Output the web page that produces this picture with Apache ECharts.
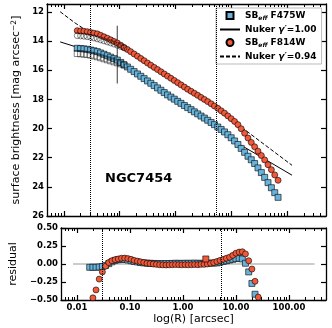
<!DOCTYPE html>
<html><head><meta charset="utf-8">
<script src="https://cdn.jsdelivr.net/npm/echarts@6/dist/echarts.min.js"></script>
<style>html,body{margin:0;padding:0;background:#fff}#c{width:332px;height:328px}</style>
</head><body><div id="c"></div>
<script>
// ---- data ----
const R = [0.0174,0.0200,0.0229,0.0263,0.0302,0.0347,0.0398,0.0457,0.0525,0.0603,0.0692,0.0794,0.0912,0.105,0.120,0.138,0.158,0.182,0.209,0.240,0.275,0.316,0.363,0.417,0.479,0.550,0.631,0.724,0.832,0.955,1.10,1.26,1.45,1.66,1.91,2.19,2.51,2.88,3.31,3.80,4.37,5.01,5.75,6.61,7.59,8.71,10.0,11.5,13.2,15.1,17.4,20.0,22.9,26.3,30.2,34.7,39.8,45.7,52.5,60.3,69.2];
const magF814W = [13.28,13.30,13.32,13.35,13.40,13.45,13.50,13.60,13.70,13.80,13.91,14.02,14.13,14.28,14.43,14.57,14.72,14.88,15.03,15.19,15.34,15.50,15.65,15.80,15.95,16.10,16.25,16.40,16.55,16.70,16.85,17.00,17.15,17.30,17.44,17.58,17.72,17.86,18.00,18.15,18.30,18.45,18.61,18.78,18.94,19.13,19.32,19.51,19.73,20.01,20.32,20.65,20.95,21.25,21.55,21.85,22.15,22.48,22.82,23.18,23.55];
const magF475W = [14.49,14.51,14.53,14.56,14.61,14.66,14.72,14.81,14.90,15.00,15.10,15.20,15.30,15.46,15.62,15.77,15.93,16.09,16.25,16.41,16.57,16.73,16.89,17.05,17.21,17.37,17.53,17.69,17.84,17.98,18.13,18.27,18.42,18.56,18.70,18.85,18.99,19.14,19.28,19.43,19.58,19.73,19.89,20.06,20.23,20.42,20.63,20.85,21.09,21.36,21.63,21.90,22.14,22.40,22.70,23.02,23.35,23.71,24.06,24.40,24.72];
const resF814W = [null,-0.47,-0.36,-0.21,-0.11,-0.03,0.02,0.045,0.06,0.07,0.08,0.082,0.075,0.065,0.05,0.04,0.03,0.02,0.01,0.005,0.0,-0.005,-0.01,-0.012,-0.014,-0.012,-0.01,-0.008,-0.01,-0.012,-0.01,-0.012,-0.01,-0.008,-0.01,-0.005,-0.005,0.0,0.01,0.02,0.035,0.05,0.065,0.08,0.095,0.12,0.15,0.165,0.17,0.14,0.045,-0.07,-0.24,-0.46,null,null,null,null,null,null,null];
const resF475W = [-0.046,-0.045,-0.045,-0.042,-0.035,-0.02,0.005,0.03,0.05,0.06,0.065,0.063,0.055,0.045,0.035,0.028,0.02,0.015,0.012,0.01,0.008,0.006,0.005,0.004,0.005,0.006,0.008,0.01,0.009,0.008,0.01,0.009,0.01,0.011,0.01,0.009,0.01,0.012,0.012,0.013,0.015,0.025,0.035,0.045,0.055,0.065,0.075,0.08,0.07,0.01,-0.11,-0.27,-0.42,null,null,null,null,null,null,null,null];
const openR = [0.0174,0.0200,0.0229,0.0263,0.0302,0.0347,0.0398,0.0457,0.0525,0.0603,0.0692,0.0794,0.0912,0.105,0.120];
const openF814W = [13.62,13.64,13.66,13.69,13.73,13.78,13.84,13.91,13.98,14.05,14.12,14.20,14.28,14.37,14.46];
const openF475W = [14.85,14.87,14.89,14.92,14.96,15.01,15.07,15.14,15.21,15.28,15.35,15.42,15.49,15.56,15.64];
const nukerBR = [0.0086,0.0174,0.0316,0.0912,0.316,1.0,3.16,5.37,12.6,123];
const nukerBMag = [14.05,14.42,14.62,15.27,16.72,18.05,19.28,19.77,20.97,23.2];
const nukerRR = [0.0086,0.0159,0.0263,0.0912,0.316,1.0,3.16,5.37,12.6,123];
const nukerRMag = [11.98,12.75,13.3,14.13,15.5,16.75,17.97,18.53,19.67,22.52];
const vlineR = [0.026, 5.3];
const breakR = [0.091, 0.091];
const breakMag = [12.95, 16.9];
const zeroR = [0.0086, 300];
const zeroRes = [0, 0];
const outlierR = [2.7];
const outlierRes = [0.07];
const xMajor = [0.01, 0.1, 1, 10, 100];
const xMinor = [0.006,0.007,0.008,0.009,0.02,0.03,0.04,0.05,0.06,0.07,0.08,0.09,0.2,0.3,0.4,0.5,0.6,0.7,0.8,0.9,2,3,4,5,6,7,8,9,20,30,40,50,60,70,80,90,200,300,400];
const yTopTicks = [12, 14, 16, 18, 20, 22, 24, 26];
const yResTicks = [-0.5, -0.25, 0, 0.25, 0.5];

// ---- chart ----
const FF = 'DejaVu Sans';
const zip = (a, b) => a.map((v, i) => [v, b[i]]).filter(p => p[1] !== null);
const blue = '#67b3db', red = '#f2583a';

function xAx(grid, pos, minor, labels, extra) {
  return Object.assign({
    type: 'log', logBase: 10, gridIndex: grid, position: pos, min: 0.005, max: 500,
    axisLine: { show: !minor, onZero: false, lineStyle: { color: '#000', width: 1.3 } },
    axisTick: { show: true, inside: true, length: minor ? 3 : 5, customValues: minor ? xMinor : xMajor,
      lineStyle: { color: '#000', width: minor ? 1 : 1.2 } },
    axisLabel: { show: labels, customValues: xMajor, formatter: v => Number(v).toFixed(2),
      fontFamily: FF, fontWeight: 'bold', fontSize: 8.5, color: '#000', margin: 3 },
    splitLine: { show: false }, minorTick: { show: false }, minorSplitLine: { show: false }
  }, extra || {});
}
function yAx(grid, pos, labels, cfg) {
  return Object.assign({
    type: 'value', gridIndex: grid, position: pos,
    axisLine: { show: true, onZero: false, lineStyle: { color: '#000', width: 1.3 } },
    axisTick: { show: true, inside: true, length: 5, customValues: cfg.ticks, lineStyle: { color: '#000', width: 1.2 } },
    axisLabel: { show: labels, customValues: cfg.ticks, formatter: cfg.fmt,
      fontFamily: FF, fontWeight: 'bold', fontSize: 8.5, color: '#000', margin: 3 },
    splitLine: { show: false }
  }, cfg.extra);
}

const topY = { ticks: yTopTicks, fmt: v => String(Math.round(v)), extra: { min: 11.45, max: 26, inverse: true } };
const resY = { ticks: yResTicks, fmt: v => v.toFixed(2).replace('-', '\u2212'), extra: { min: -0.5, max: 0.5 } };

const vMark = {
  silent: true, symbol: 'none', label: { show: false },
  lineStyle: { type: 'dotted', color: '#000', width: 1 },
  data: vlineR.map(v => ({ xAxis: v }))
};

const option = {
  animation: false,
  title: { text: 'NGC7454', left: 105, top: 172, padding: 0,
    textStyle: { fontFamily: FF, fontWeight: 'bold', fontSize: 13, color: '#000' } },
  legend: {
    left: 216, top: 8, orient: 'vertical', itemWidth: 20, itemHeight: 7, itemGap: 4,
    padding: [3, 5, 3, 3], backgroundColor: '#fff', borderColor: '#aaa', borderWidth: 0.8, borderRadius: 0,
    data: [
      { name: 'F475W', icon: 'path://M0,0L10,0L10,10L0,10Z' },
      { name: 'NukerB', itemStyle: { opacity: 0 } },
      { name: 'F814W', icon: 'circle' },
      { name: 'NukerR', itemStyle: { opacity: 0 } }
    ],
    formatter: n => ({
      F475W: '{b|SB}{s|eff}{b| F475W}',
      NukerB: '{b|Nuker }{g|\u03b3\u2032}{b|=1.00}',
      F814W: '{b|SB}{s|eff}{b| F814W}',
      NukerR: '{b|Nuker }{g|\u03b3\u2032}{b|=0.94}'
    })[n],
    textStyle: {
      fontFamily: FF, fontWeight: 'bold', fontSize: 9, color: '#000',
      rich: {
        b: { fontFamily: FF, fontWeight: 'bold', fontSize: 9, lineHeight: 11, color: '#000' },
        s: { fontFamily: FF, fontWeight: 'bold', fontStyle: 'italic', fontSize: 6, lineHeight: 6, verticalAlign: 'bottom', color: '#000' },
        g: { fontFamily: FF, fontWeight: 'bold', fontStyle: 'italic', fontSize: 9, lineHeight: 11, color: '#000' }
      }
    }
  },
  grid: [
    { left: 47, top: 4, width: 279, height: 212 },
    { left: 47, top: 228, width: 279, height: 72 }
  ],
  xAxis: [
    xAx(0, 'bottom', false, false), xAx(0, 'bottom', true, false),
    xAx(0, 'top', false, false), xAx(0, 'top', true, false),
    xAx(1, 'bottom', false, true, { name: 'log(R) [arcsec]', nameLocation: 'middle', nameGap: 14,
      nameTextStyle: { fontFamily: FF, fontSize: 11, color: '#000' } }),
    xAx(1, 'bottom', true, false),
    xAx(1, 'top', false, false), xAx(1, 'top', true, false)
  ],
  yAxis: [
    yAx(0, 'left', true, Object.assign({}, topY, { extra: Object.assign({}, topY.extra, {
      name: 'surface brightness [mag arcsec{sup|\u22122}]', nameLocation: 'middle', nameGap: 16,
      nameTextStyle: { fontFamily: FF, fontSize: 11, color: '#000',
        rich: { sup: { fontFamily: FF, fontSize: 7.5, verticalAlign: 'top', lineHeight: 8, color: '#000' } } } }) })),
    yAx(0, 'right', false, topY),
    yAx(1, 'left', true, Object.assign({}, resY, { extra: Object.assign({}, resY.extra, {
      name: 'residual', nameLocation: 'middle', nameGap: 30,
      nameTextStyle: { fontFamily: FF, fontSize: 11, color: '#000' } }) })),
    yAx(1, 'right', false, resY)
  ],
  series: [
    { name: 'NukerB', type: 'line', xAxisIndex: 0, yAxisIndex: 0, data: zip(nukerBR, nukerBMag),
      symbol: 'none', z: 2, lineStyle: { color: '#000', width: 1 }, itemStyle: { color: '#000' }, markLine: vMark },
    { name: 'NukerR', type: 'line', xAxisIndex: 0, yAxisIndex: 0, data: zip(nukerRR, nukerRMag),
      symbol: 'none', z: 2, lineStyle: { color: '#000', width: 1, type: [4, 2] }, itemStyle: { color: '#000' } },
    { name: 'break', type: 'line', xAxisIndex: 0, yAxisIndex: 0, data: zip(breakR, breakMag),
      symbol: 'none', z: 2, lineStyle: { color: '#666', width: 1.3 } },
    { name: 'F475W', type: 'scatter', xAxisIndex: 0, yAxisIndex: 0, data: zip(R, magF475W),
      symbol: 'rect', symbolSize: 6, z: 3, itemStyle: { color: blue, borderColor: '#000', borderWidth: 0.6, opacity: 1 } },
    { name: 'F814W', type: 'scatter', xAxisIndex: 0, yAxisIndex: 0, data: zip(R, magF814W),
      symbol: 'circle', symbolSize: 6, z: 3, itemStyle: { color: red, borderColor: '#000', borderWidth: 0.6, opacity: 1 } },
    { name: 'openB', type: 'scatter', xAxisIndex: 0, yAxisIndex: 0, data: zip(openR, openF475W),
      symbol: 'rect', symbolSize: 6, z: 4, itemStyle: { color: 'rgba(0,0,0,0)', borderColor: '#000', borderWidth: 0.6 } },
    { name: 'openR', type: 'scatter', xAxisIndex: 0, yAxisIndex: 0, data: zip(openR, openF814W),
      symbol: 'circle', symbolSize: 6, z: 4, itemStyle: { color: 'rgba(0,0,0,0)', borderColor: '#000', borderWidth: 0.6 } },
    { name: 'zero', type: 'line', xAxisIndex: 4, yAxisIndex: 2, data: zip(zeroR, zeroRes),
      symbol: 'none', z: 2, lineStyle: { color: '#333', width: 1, type: 'dotted' }, markLine: vMark },
    { name: 'resB', type: 'scatter', xAxisIndex: 4, yAxisIndex: 2, data: zip(R, resF475W),
      symbol: 'rect', symbolSize: 6, z: 3, itemStyle: { color: blue, borderColor: '#000', borderWidth: 0.6, opacity: 1 } },
    { name: 'resR', type: 'scatter', xAxisIndex: 4, yAxisIndex: 2, data: zip(R, resF814W),
      symbol: 'circle', symbolSize: 6, z: 3, itemStyle: { color: red, borderColor: '#000', borderWidth: 0.6, opacity: 1 } },
    { name: 'outlier', type: 'scatter', xAxisIndex: 4, yAxisIndex: 2, data: zip(outlierR, outlierRes),
      symbol: 'rect', symbolSize: 6, z: 3, itemStyle: { color: red, borderColor: '#000', borderWidth: 0.6, opacity: 1 } }
  ]
};
const chart = echarts.init(document.getElementById('c'), null, { renderer: 'canvas' });
chart.setOption(option);
</script></body></html>
